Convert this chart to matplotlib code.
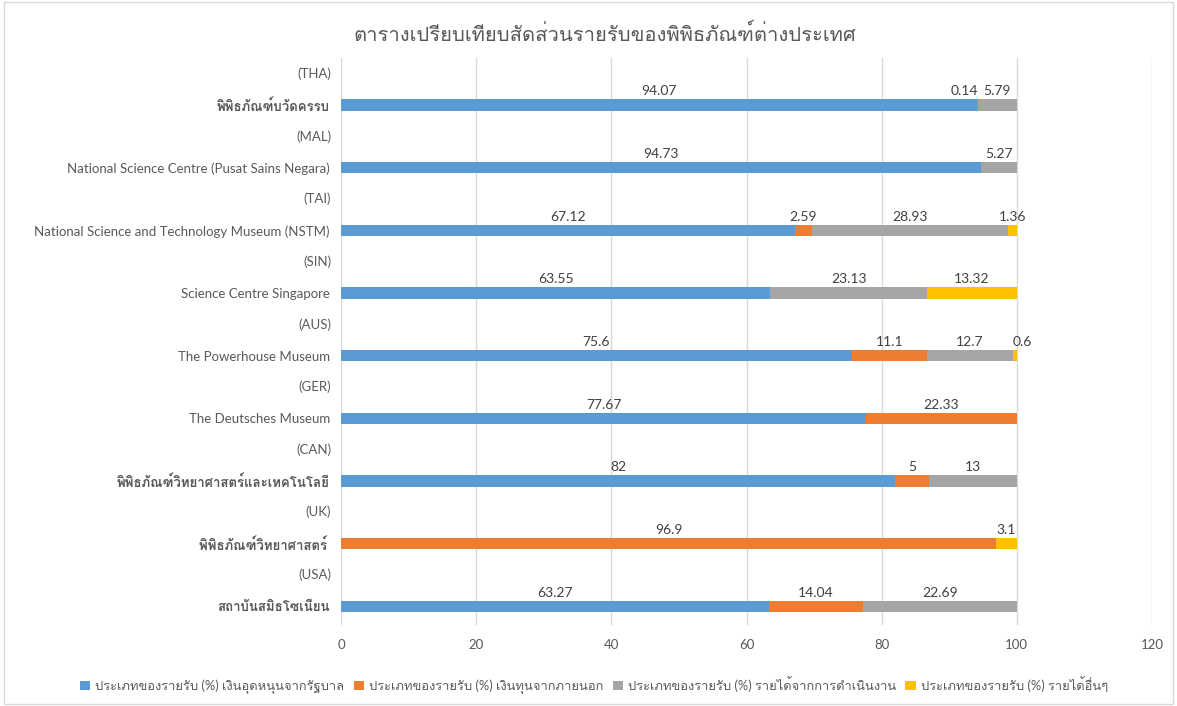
import matplotlib
matplotlib.use("Agg")
import matplotlib.pyplot as plt
from matplotlib import font_manager
from matplotlib.ft2font import FT2Font
from matplotlib.patches import Rectangle, Patch
import numpy as np

# ---------------- data ----------------
museums = [
    "สถาบันสมิธโซเนียน",
    "พิพิธภัณฑ์วิทยาศาสตร์ ",
    "พิพิธภัณฑ์วิทยาศาสตร์และเทคโนโลยี",
    "The Deutsches Museum",
    "The Powerhouse Museum",
    "Science Centre Singapore",
    "National Science and Technology Museum (NSTM)",
    "National Science Centre (Pusat Sains Negara)",
    "พิพิธภัณฑ์บวัดครรบ",
]
countries = ["(USA)", "(UK)", "(CAN)", "(GER)", "(AUS)", "(SIN)", "(TAI)", "(MAL)", "(THA)"]

series_names = [
    "ประเภทของรายรับ (%) เงินอุดหนุนจากรัฐบาล",
    "ประเภทของรายรับ (%) เงินทุนจากภายนอก",
    "ประเภทของรายรับ (%) รายได้จากการดำเนินงาน",
    "ประเภทของรายรับ (%) รายได้อื่นๆ",
]
gov = [63.27, None, 82, 77.67, 75.6, 63.55, 67.12, 94.73, 94.07]
ext = [14.04, 96.9, 5, 22.33, 11.1, None, 2.59, None, 0.14]
ops = [22.69, None, 13, None, 12.7, 23.13, 28.93, 5.27, 5.79]
oth = [None, 3.1, None, None, 0.6, 13.32, 1.36, None, None]

colors = ["#5B9BD5", "#ED7D31", "#A5A5A5", "#FFC000"]
x_ticks = [0, 20, 40, 60, 80, 100, 120]
title = "ตารางเปรียบเทียบสัดส่วนรายรับของพิพิธภัณฑ์ต่างประเทศ"

# ---------------- fonts ----------------
def has_glyphs(path, chars):
    try:
        ft = FT2Font(path)
        return all(ft.get_char_index(ord(c)) for c in chars)
    except Exception:
        return False

thai_fams = []
for f in font_manager.fontManager.ttflist:
    if f.name not in thai_fams and has_glyphs(f.fname, "กพิ์"):
        thai_fams.append(f.name)

base = "Lato"
fams = [base] + thai_fams + ["DejaVu Sans"]
plt.rcParams["font.family"] = fams

txt_color = "#595959"

fig = plt.figure(figsize=(11.77, 7.06), dpi=100)
ax = fig.add_axes([341 / 1177, 1 - 625 / 706, (1152 - 341) / 1177, (625 - 58) / 706])

# outer chart border
fig.patches.append(Rectangle((0.003, 0.003), 0.994, 0.994, transform=fig.transFigure,
                             fill=False, edgecolor="#D9D9D9", linewidth=1.0))

series = [gov, ext, ops, oth]
y = np.arange(len(museums))
bar_h = 0.18
left = np.zeros(len(museums))
totals = np.zeros(len(museums))
for vals in series:
    totals += np.array([0 if a is None else a for a in vals], dtype=float)

for vals, col, name in zip(series, colors, series_names):
    v = np.array([0 if a is None else a for a in vals], dtype=float)
    ax.barh(y, v, left=left, height=bar_h, color=col, label=name, zorder=3)
    for i, a in enumerate(vals):
        if a is None:
            continue
        ty = y[i] + bar_h / 2 + 0.03
        if a < 1 and left[i] + a < totals[i] - 0.01:
            tx, ha = left[i] + a, "right"      # tiny inner segment: keep clear of neighbour
        elif a < 1:
            tx, ha = left[i], "left"           # tiny end segment
        else:
            tx, ha = left[i] + a / 2, "center"
        ax.text(tx, ty, f"{a:g}", ha=ha, va="bottom", fontsize=10,
                color="#404040", zorder=4)
    left += v

ax.set_xlim(0, 120)
ax.set_ylim(-0.30, 8.75)
ax.set_xticks(x_ticks)
ax.set_xticklabels([str(t) for t in x_ticks])
ax.tick_params(axis="x", length=0, colors=txt_color, labelsize=9.5, pad=10)
ax.set_yticks(y)
ax.set_yticklabels(museums)
ax.tick_params(axis="y", length=0, colors=txt_color, labelsize=9.5, pad=8)
for lbl in ax.get_yticklabels():
    if any("\u0e00" <= ch <= "\u0e7f" for ch in lbl.get_text()):
        lbl.set_fontweight("bold")
for i, c in enumerate(countries):
    ax.text(-0.012, y[i] + 0.5, c, transform=ax.get_yaxis_transform(),
            ha="right", va="center", fontsize=9.5, color=txt_color)

ax.grid(axis="x", color="#D9D9D9", linewidth=1, zorder=0)
for s in ax.spines.values():
    s.set_visible(False)

fig.suptitle(title, x=605 / 1177, y=1 - 33 / 706, va="center",
             fontsize=14.5, color=txt_color)

handles = [Patch(facecolor=c, label=n) for c, n in zip(colors, series_names)]
fig.legend(handles=handles, loc="center", bbox_to_anchor=(594 / 1177, 1 - 685 / 706), ncol=4,
           frameon=False, fontsize=9.3, labelcolor=txt_color, handlelength=0.8,
           handleheight=0.8, handletextpad=0.4, columnspacing=0.7)

fig.savefig("out.png", dpi=100)
